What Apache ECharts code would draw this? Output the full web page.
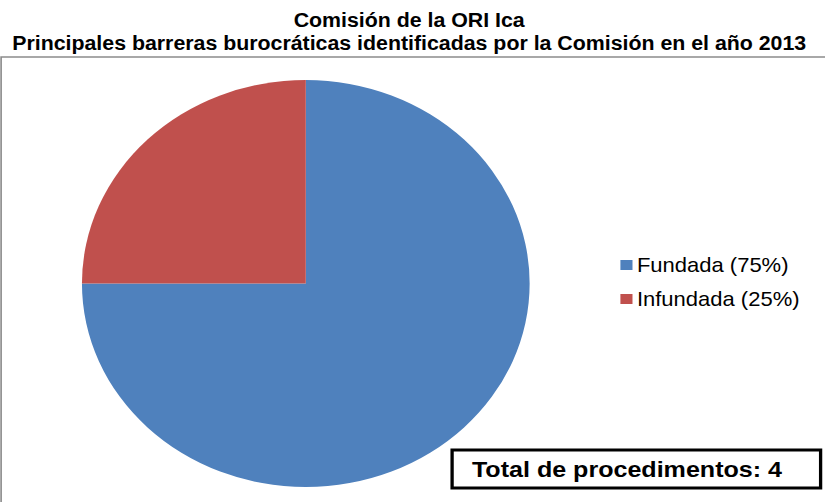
<!DOCTYPE html>
<html>
<head>
<meta charset="utf-8">
<script src="https://cdn.jsdelivr.net/npm/echarts@6/dist/echarts.min.js"></script>
<style>
  html, body { margin: 0; padding: 0; background: #fff; overflow: hidden; }
  /* the original picture is stretched sideways, so the chart is drawn narrower and scaled */
  #main { width: 750px; height: 502px; transform: scaleX(1.1); transform-origin: 0 0; }
</style>
</head>
<body>
<div id="main"></div>
<script>
var categories = ['Fundada', 'Infundada'];
var counts = [3, 1];
var colors = ['#4F81BD', '#C0504D'];
var total = counts.reduce(function (a, b) { return a + b; }, 0);

var chart = echarts.init(document.getElementById('main'), null, { renderer: 'svg' });

chart.setOption({
  animation: false,
  color: colors,
  title: {
    text: 'Comisión de la ORI Ica\nPrincipales barreras burocráticas identificadas por la Comisión en el año 2013',
    left: 372,
    top: 9,
    textAlign: 'center',
    padding: 0,
    textStyle: {
      fontFamily: 'Liberation Sans, Arial, sans-serif',
      fontSize: 19.4,
      fontWeight: 'bold',
      lineHeight: 23,
      color: '#000'
    }
  },
  legend: {
    orient: 'vertical',
    left: 564,
    top: 254,
    padding: 0,
    itemWidth: 11,
    itemHeight: 10,
    itemGap: 12,
    icon: 'rect',
    selectedMode: false,
    formatter: function (name) {
      var v = counts[categories.indexOf(name)];
      return name + ' (' + Math.round(v / total * 100) + '%)';
    },
    textStyle: {
      fontFamily: 'Liberation Sans, Arial, sans-serif',
      fontSize: 20,
      lineHeight: 22,
      color: '#000',
      padding: [0, 0, 0, -1]
    }
  },
  graphic: [
    {
      type: 'rect',
      shape: { x: 1, y: 57, width: 800, height: 500 },
      style: { fill: 'none', stroke: '#8c8c8c', lineWidth: 1.5 },
      silent: true
    },
    {
      type: 'rect',
      shape: { x: 411, y: 450, width: 335, height: 38 },
      style: { fill: '#fff', stroke: '#000', lineWidth: 3 },
      z: 10
    },
    {
      type: 'text',
      x: 429,
      y: 469,
      z: 11,
      style: {
        text: 'Total de procedimentos: ' + total,
        fontFamily: 'Liberation Sans, Arial, sans-serif',
        fontSize: 22.8,
        fontWeight: 'bold',
        fill: '#000',
        verticalAlign: 'middle'
      }
    }
  ],
  series: [{
    type: 'pie',
    center: [278, 283.5],
    radius: 203.5,
    startAngle: 90,
    clockwise: true,
    label: { show: false },
    labelLine: { show: false },
    emphasis: { disabled: true },
    itemStyle: { borderWidth: 0 },
    data: categories.map(function (c, i) {
      return { name: c, value: counts[i] };
    })
  }]
});
</script>
</body>
</html>
